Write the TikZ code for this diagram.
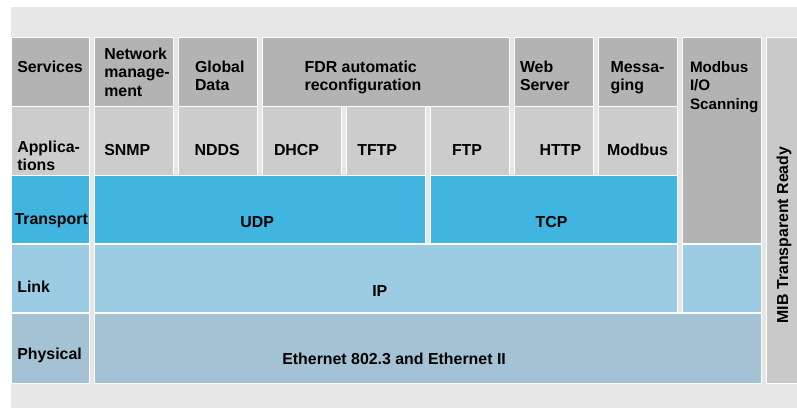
\documentclass[tikz,border=0pt]{standalone}
\usepackage{fontspec}
\setmainfont{Liberation Sans}
\definecolor{bgc}{HTML}{E6E6E6}
\definecolor{svc}{HTML}{B3B3B3}
\definecolor{appc}{HTML}{CCCCCC}
\definecolor{trc}{HTML}{3FB5DF}
\definecolor{lnc}{HTML}{9CCCE3}
\definecolor{phc}{HTML}{A3C2D3}
\definecolor{mibc}{HTML}{C9C9C9}
\tikzset{
  cell/.style={draw=white, line width=1.5bp, inner sep=0pt, outer sep=0pt},
  lbl/.style={inner sep=0pt, outer sep=0pt, anchor=base west, align=left,
    font=\fontsize{15.9bp}{18.3bp}\selectfont\bfseries, text=black},
  lblsm/.style={lbl, font=\fontsize{15.2bp}{18.3bp}\selectfont\bfseries},
}
\newcommand\mybox[6]{%
  \node[cell, fill=#6, minimum width={#4bp-#2bp}, minimum height={#5bp-#3bp}]
    (#1) at ({(#2+#4)/2},{(#3+#5)/2}) {};%
}
\begin{document}
\begin{tikzpicture}[x=1bp,y=-1bp]
\useasboundingbox (0,0) rectangle (797,408);
\fill[bgc] (11,7) rectangle (797,408);
% services row
\mybox{svL}{11.5}{37.5}{89.5}{106.5}{svc}
\mybox{svNM}{94.5}{37.5}{173.5}{106.5}{svc}
\mybox{svGD}{178.5}{37.5}{257.5}{106.5}{svc}
\mybox{svFDR}{262.5}{37.5}{509.5}{106.5}{svc}
\mybox{svWeb}{514.5}{37.5}{593.5}{106.5}{svc}
\mybox{svMsg}{598.5}{37.5}{677.5}{106.5}{svc}
\mybox{svIO}{682.5}{37.5}{761.5}{244}{svc}
% applications row
\mybox{apL}{11.5}{106.5}{89.5}{175.5}{appc}
\mybox{apSNMP}{94.5}{106.5}{173.5}{175.5}{appc}
\mybox{apNDDS}{178.5}{106.5}{257.5}{175.5}{appc}
\mybox{apDHCP}{262.5}{106.5}{341.5}{175.5}{appc}
\mybox{apTFTP}{346.5}{106.5}{425.5}{175.5}{appc}
\mybox{apFTP}{430.5}{106.5}{509.5}{175.5}{appc}
\mybox{apHTTP}{514.5}{106.5}{593.5}{175.5}{appc}
\mybox{apMod}{598.5}{106.5}{677.5}{175.5}{appc}
% transport row
\mybox{trL}{11.5}{175.5}{89.5}{244}{trc}
\mybox{trUDP}{94.5}{175.5}{425.5}{244}{trc}
\mybox{trTCP}{430.5}{175.5}{677.5}{244}{trc}
% link row
\mybox{lnL}{11.5}{244}{89.5}{313}{lnc}
\mybox{lnIP}{94.5}{244}{677.5}{313}{lnc}
\mybox{lnIO}{682.5}{244}{761.5}{313}{lnc}
% physical row
\mybox{phL}{11.5}{313}{89.5}{383.5}{phc}
\mybox{phEth}{94.5}{313}{761.5}{383.5}{phc}
% MIB column
\mybox{mib}{766.5}{37.5}{797.5}{383.5}{mibc}
% texts (multi-line nodes are anchored at the baseline of their last line)
\node[lbl] (tSv) at (17.3,72.5) {Services};
\node[lbl] (tNM) at (104.3,96.1) {Network\\manage-\\ment};
\node[lbl] (tGD) at (195,90.8) {Global\\Data};
\node[lbl] (tFDR) at (304.6,90.8) {FDR automatic\\reconfiguration};
\node[lbl] (tWeb) at (520,90.8) {Web\\Server};
\node[lbl] (tMsg) at (610.6,90.8) {Messa-\\ging};
\node[lblsm] (tIO) at (690,109.1) {Modbus\\I/O\\Scanning};
\node[lbl] (tAp) at (17.3,170.6) {Applica-\\tions};
\node[lbl] (tSNMP) at (104.3,155.2) {SNMP};
\node[lbl] (tNDDS) at (194.6,155.2) {NDDS};
\node[lbl] (tDHCP) at (274,155.2) {DHCP};
\node[lbl] (tTFTP) at (357.3,155.2) {TFTP};
\node[lbl] (tFTP) at (452,155.2) {FTP};
\node[lbl] (tHTTP) at (539.6,155.2) {HTTP};
\node[lbl] (tMod) at (607,155.2) {Modbus};
\node[lbl] (tTr) at (14.5,224.3) {Transport};
\node[lbl] (tUDP) at (240.3,227.4) {UDP};
\node[lbl] (tTCP) at (535.6,227.4) {TCP};
\node[lbl] (tLn) at (17.3,292.6) {Link};
\node[lbl] (tIP) at (372.3,296.8) {IP};
\node[lbl] (tPh) at (17.3,359) {Physical};
\node[lbl] (tEth) at (282.3,364) {Ethernet 802.3 and Ethernet II};
\node[lbl, anchor=base, rotate=90] (tMIB) at (788,235) {MIB Transparent Ready};
\end{tikzpicture}
\end{document}
